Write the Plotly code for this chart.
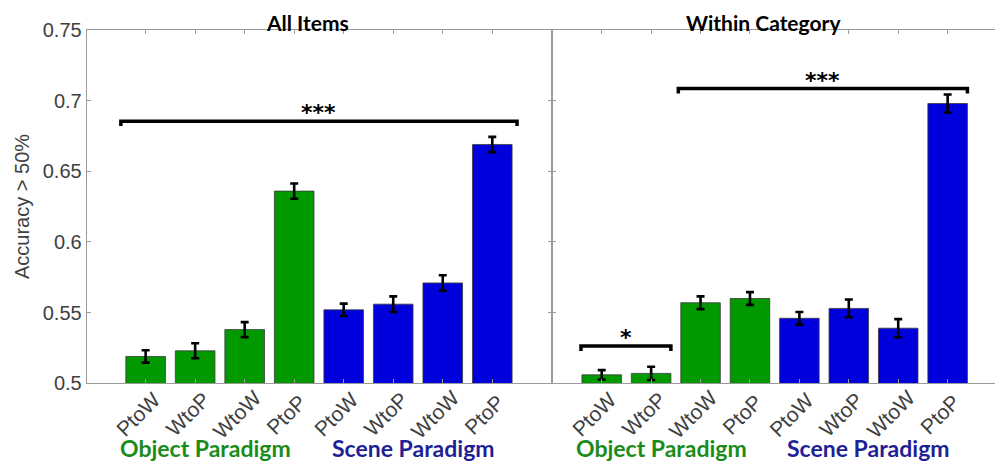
import plotly.graph_objects as go

# ---------------- data ----------------
conditions = ["PtoW", "WtoP", "WtoW", "PtoP", "PtoW", "WtoP", "WtoW", "PtoP"]
paradigm = ["Object", "Object", "Object", "Object", "Scene", "Scene", "Scene", "Scene"]
positions = [1, 2, 3, 4, 5, 6, 7, 8]

all_items_vals = [0.519, 0.523, 0.538, 0.636, 0.552, 0.556, 0.571, 0.669]
all_items_err = [0.0044, 0.0053, 0.0053, 0.0054, 0.0044, 0.0055, 0.0055, 0.0054]

within_vals = [0.506, 0.507, 0.557, 0.560, 0.546, 0.553, 0.539, 0.698]
within_err = [0.0033, 0.0047, 0.0045, 0.0045, 0.0045, 0.0063, 0.0064, 0.0064]

# significance brackets: start, end, height, label
sig_left_x0 = [0.5]
sig_left_x1 = [8.5]
sig_left_y = [0.6855]
sig_left_txt = ["***"]

sig_right_x0 = [2.55, 0.58]
sig_right_x1 = [8.4, 2.4]
sig_right_y = [0.7086, 0.5264]
sig_right_txt = ["***", "*"]

panel_titles = ["All Items", "Within Category"]
group_labels = ["Object Paradigm", "Scene Paradigm"]
y_ticks = [0.5, 0.55, 0.6, 0.65, 0.7, 0.75]
y_tick_text = ["0.5", "0.55", "0.6", "0.65", "0.7", "0.75"]

# ---------------- style ----------------
OFF = 8                      # page body margin of the browser
W, H = 1003 - OFF, 464 - OFF
bar_fill = {"Object": "#009900", "Scene": "#0000DC"}
label_col = {"Object Paradigm": "#1a8c1a", "Scene Paradigm": "#1f1f96"}
axis_col = "#9a9a9a"
tick_font = dict(family="Liberation Sans, Arial", size=20, color="#404040")
xtick_font = dict(family="Liberation Sans, Arial", size=21, color="#404040")
bold_font = "Lato, Open Sans, sans-serif"

def px_x(p):
    return (p - OFF) / W

def px_y(p):
    return 1 - (p - OFF) / H

bar_colors = [bar_fill[p] for p in paradigm]

fig = go.Figure()

for vals, errs, xa, ya in [(all_items_vals, all_items_err, "x", "y"),
                           (within_vals, within_err, "x2", "y2")]:
    fig.add_trace(go.Bar(
        x=positions, y=vals, width=0.8,
        marker=dict(color=bar_colors, line=dict(color="#3a3a3a", width=0.8)),
        error_y=dict(type="data", array=errs, color="black", thickness=2.6, width=4),
        xaxis=xa, yaxis=ya, showlegend=False, hoverinfo="skip",
    ))

drop = 0.0035
for x0s, x1s, ys, txts, xa, ya in [
        (sig_left_x0, sig_left_x1, sig_left_y, sig_left_txt, "x", "y"),
        (sig_right_x0, sig_right_x1, sig_right_y, sig_right_txt, "x2", "y2")]:
    for x0, x1, yv, t in zip(x0s, x1s, ys, txts):
        fig.add_trace(go.Scatter(
            x=[x0, x0, x1, x1], y=[yv - drop, yv, yv, yv - drop],
            mode="lines", line=dict(color="black", width=3.5),
            xaxis=xa, yaxis=ya, showlegend=False, hoverinfo="skip", cliponaxis=False,
        ))
        fig.add_annotation(
            x=(x0 + x1) / 2, y=yv, xref=xa, yref=ya, text="<b>%s</b>" % t, showarrow=False,
            yanchor="bottom", yshift=-6,
            font=dict(family="DejaVu Sans", size=22, color="black"),
        )

# rotated category labels (drawn as annotations for precise placement)
for xa in ["x", "x2"]:
    for pos, lab in zip(positions, conditions):
        fig.add_annotation(
            x=pos, y=px_y(414), xref=xa, yref="paper", text=lab, textangle=-45,
            showarrow=False, xanchor="center", yanchor="middle", xshift=-8,
            font=xtick_font,
        )

# panel titles
for t, xa in zip(panel_titles, ["x", "x2"]):
    fig.add_annotation(
        x=4.27, y=1.0, xref=xa, yref="paper", text="<b>%s</b>" % t,
        showarrow=False, yanchor="top",
        font=dict(family=bold_font, size=21, color="black"),
    )

# group labels under the axes
for xa in ["x", "x2"]:
    for lbl, xc in zip(group_labels, [2.2, 6.4]):
        fig.add_annotation(
            x=xc, y=px_y(448), xref=xa, yref="paper", text="<b>%s</b>" % lbl,
            showarrow=False, yanchor="middle",
            font=dict(family=bold_font, size=23, color=label_col[lbl]),
        )

# y-axis title
fig.add_annotation(
    x=px_x(22), y=px_y(207), xref="paper", yref="paper", text="Accuracy > 50%",
    textangle=-90, showarrow=False, xanchor="center", yanchor="middle",
    font=dict(family="Liberation Sans, Arial", size=20, color="#404040"),
)

common_x = dict(
    tickmode="array", tickvals=positions, ticktext=conditions, showticklabels=False,
    ticks="inside", ticklen=4, tickcolor=axis_col, showline=True, linecolor=axis_col,
    linewidth=1, mirror="ticks", showgrid=False, zeroline=False,
    automargin=False,
)
common_y = dict(
    range=[0.5, 0.75], tickmode="array", tickvals=y_ticks, ticktext=y_tick_text,
    ticks="inside", ticklen=4, tickcolor=axis_col, showline=True, linecolor=axis_col,
    linewidth=1, mirror="ticks", showgrid=False, zeroline=False, tickfont=tick_font,
    domain=[px_y(383.3), px_y(30)], automargin=False,
)

fig.update_layout(
    width=W, height=H, margin=dict(l=0, r=0, t=0, b=0, autoexpand=False),
    paper_bgcolor="white", plot_bgcolor="white", bargap=0.2,
    xaxis=dict(common_x, range=[-0.19, 9.2], domain=[px_x(86.7), px_x(551.7)], anchor="y"),
    xaxis2=dict(common_x, range=[0, 9.1], domain=[px_x(552.3), min(1.0, px_x(1002))], anchor="y2"),
    yaxis=dict(common_y, anchor="x"),
    yaxis2=dict(common_y, anchor="x2", showticklabels=False, matches="y"),
)

fig.write_html("out.html")
